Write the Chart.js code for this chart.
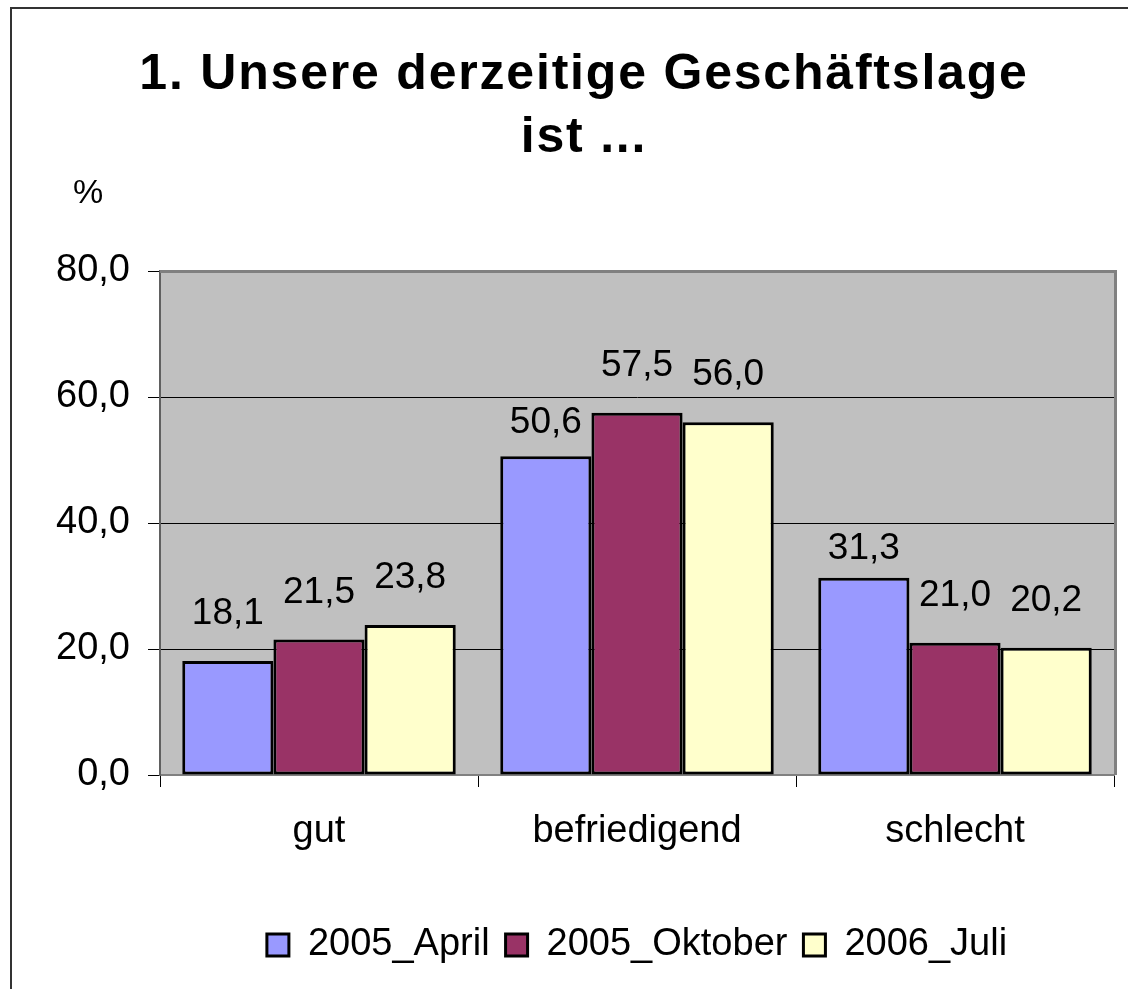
<!DOCTYPE html>
<html>
<head>
<meta charset="utf-8">
<script src="https://cdn.jsdelivr.net/npm/chart.js@4.4.1/dist/chart.umd.min.js"></script>
<style>
  html, body { margin: 0; padding: 0; background: #ffffff; }
  #wrap { width: 1128px; height: 989px; }
</style>
</head>
<body>
<div id="wrap"><canvas id="c" width="1128" height="989"></canvas></div>
<script>
const titleLines = ['1. Unsere derzeitige Geschäftslage', 'ist ...'];
const yUnit = '%';
const categories = ['gut', 'befriedigend', 'schlecht'];
const seriesNames = ['2005_April', '2005_Oktober', '2006_Juli'];
const april = [18.1, 50.6, 31.3];
const oktober = [21.5, 57.5, 21.0];
const juli = [23.8, 56.0, 20.2];
const yTicks = [0, 20, 40, 60, 80];

const FONT = '"Liberation Sans", Arial, sans-serif';
Chart.defaults.font.family = FONT;
Chart.defaults.color = '#000';

const fmt = v => v.toFixed(1).replace('.', ',');

const decor = {
  id: 'decor',
  beforeDraw(chart) {
    const {ctx, chartArea: a} = chart;
    ctx.save();
    ctx.fillStyle = '#ffffff';
    ctx.fillRect(0, 0, chart.width, chart.height);
    // outer frame (top + left visible)
    ctx.strokeStyle = '#333333';
    ctx.lineWidth = 2;
    ctx.beginPath();
    ctx.moveTo(11, chart.height + 5);
    ctx.lineTo(11, 8);
    ctx.lineTo(chart.width + 5, 8);
    ctx.stroke();
    // plot area fill
    ctx.fillStyle = '#C0C0C0';
    ctx.fillRect(a.left, a.top, a.right - a.left, a.bottom - a.top);
    // title
    ctx.fillStyle = '#000';
    ctx.textAlign = 'center';
    ctx.textBaseline = 'alphabetic';
    ctx.font = 'bold 50px ' + FONT;
    try { ctx.letterSpacing = '1.8px'; } catch (e) {}
    ctx.fillText(titleLines[0], 584, 89);
    ctx.fillText(titleLines[1], 584, 152);
    try { ctx.letterSpacing = '0px'; } catch (e) {}
    ctx.font = '34px ' + FONT;
    ctx.fillText(yUnit, 88, 203);
    ctx.restore();
  },
  afterDatasetsDraw(chart) {
    const {ctx, chartArea: a} = chart;
    ctx.save();
    ctx.strokeStyle = '#808080';
    ctx.lineWidth = 3;
    ctx.beginPath();
    ctx.moveTo(a.left, a.top + 0.5);
    ctx.lineTo(a.right + 1.5, a.top + 0.5);
    ctx.lineTo(a.right + 1.5, a.bottom);
    ctx.stroke();
    // value labels
    const lift = chart.options.plugins.decor.lift;
    ctx.fillStyle = '#000';
    ctx.textAlign = 'center';
    ctx.textBaseline = 'alphabetic';
    ctx.font = '37px ' + FONT;
    chart.data.datasets.forEach((ds, di) => {
      const meta = chart.getDatasetMeta(di);
      meta.data.forEach((bar, i) => {
        const key = di + ':' + i;
        const off = (lift[key] !== undefined) ? lift[key] : lift.default;
        ctx.fillText(fmt(ds.data[i]), bar.x, bar.y - off);
      });
    });
    ctx.restore();
  }
};

const colors = ['#9999FF', '#993366', '#FFFFCC'];
const seriesData = [april, oktober, juli];

new Chart(document.getElementById('c'), {
  type: 'bar',
  data: {
    labels: categories,
    datasets: seriesNames.map((n, i) => ({
      label: n,
      data: seriesData[i],
      backgroundColor: colors[i],
      borderColor: '#000000',
      borderWidth: 3,
      borderSkipped: false,
      categoryPercentage: 0.86,
      barPercentage: 1.0
    }))
  },
  options: {
    responsive: false,
    animation: false,
    devicePixelRatio: 1,
    layout: { padding: { top: 271, left: 0, right: 14, bottom: 15 } },
    scales: {
      x: {
        afterFit(s) { s.height = 135; },
        grid: {
          offset: true,
          drawOnChartArea: false,
          drawTicks: true,
          tickLength: 12,
          color: '#000',
          lineWidth: 1
        },
        border: { display: true, color: '#808080', width: 2 },
        ticks: { font: { size: 38 }, padding: 22, color: '#000', maxRotation: 0 }
      },
      y: {
        min: 0,
        max: 80,
        afterFit(s) { s.width = 160; },
        afterBuildTicks(s) { s.ticks = yTicks.map(v => ({ value: v })); },
        grid: {
          color: c => (c.tick && (c.tick.value === 0 || c.tick.value === 80)) ? 'rgba(0,0,0,0)' : '#000',
          tickColor: '#000',
          lineWidth: 1,
          tickLength: 12,
          drawTicks: true
        },
        border: { display: true, color: '#606060', width: 2 },
        ticks: { font: { size: 38 }, padding: 18, color: '#000', callback: v => fmt(v) }
      }
    },
    plugins: {
      title: { display: false },
      tooltip: { enabled: false },
      decor: { lift: { default: 37, '0:1': 23, '0:2': 19 } },
      legend: {
        position: 'bottom',
        fullSize: false,
        labels: {
          font: { size: 38 },
          color: '#000',
          boxWidth: 22,
          boxHeight: 22,
          padding: 16
        }
      }
    }
  },
  plugins: [decor]
});
</script>
</body>
</html>
